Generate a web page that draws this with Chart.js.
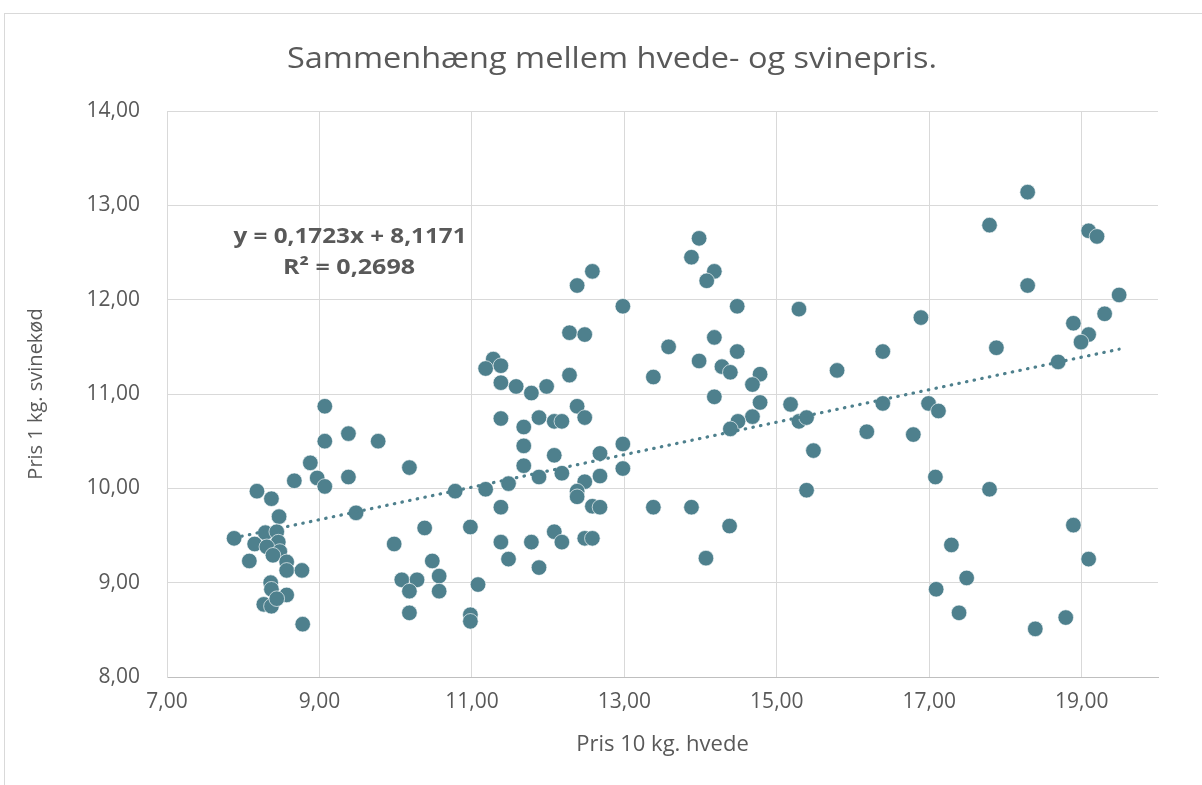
<!DOCTYPE html>
<html>
<head>
<meta charset="utf-8">
<script src="https://cdn.jsdelivr.net/npm/chart.js@4"></script>
<style>
  html, body { margin: 0; padding: 0; background: #ffffff; }
  #wrap { width: 1202px; height: 785px; position: relative; }
</style>
</head>
<body>
<div id="wrap"><canvas id="c" width="1202" height="785"></canvas></div>
<script>
// ---- data ----
const chartTitle = "Sammenhæng mellem hvede- og svinepris.";
const xAxisTitle = "Pris 10 kg. hvede";
const yAxisTitle = "Pris 1 kg. svinekød";
const xTicks = [7, 9, 11, 13, 15, 17, 19];
const yTicks = [8, 9, 10, 11, 12, 13, 14];
const equationLines = ["y = 0,1723x + 8,1171", "R² = 0,2698"];

// Pris 10 kg. hvede (x)
const wheatPrice = [
  7.88, 8.08, 8.18, 8.15, 8.29, 8.27, 8.37, 8.36, 8.37, 8.47,
  8.44, 8.46, 8.31, 8.48, 8.39, 8.57, 8.57, 8.77, 8.37, 8.57,
  8.44, 8.78, 8.67, 8.88, 8.97, 9.07, 9.07, 9.07, 9.38, 9.38,
  9.77, 10.18, 9.48, 10.78, 11.18, 10.38, 10.98, 9.98, 10.48, 10.08,
  10.28, 10.18, 10.57, 10.57, 11.08, 10.18, 10.98, 10.98, 12.28, 12.48,
  11.28, 11.18, 11.38, 11.38, 11.58, 11.78, 11.98, 12.28, 13.58, 13.98,
  13.38, 11.38, 11.68, 11.88, 12.08, 12.18, 12.38, 12.48, 11.68, 12.08,
  11.68, 11.88, 12.18, 12.68, 12.98, 12.98, 12.68, 12.48, 12.38, 12.38,
  12.58, 12.68, 13.38, 13.88, 11.48, 11.38, 11.38, 11.78, 12.08, 12.18,
  12.48, 12.58, 11.48, 11.88, 14.07, 13.98, 13.88, 14.18, 14.08, 14.48,
  14.18, 14.48, 14.28, 14.39, 14.78, 14.68, 14.18, 14.78, 14.68, 14.49,
  14.39, 12.38, 12.58, 12.98, 15.29, 16.89, 16.39, 15.79, 15.18, 16.39,
  16.99, 17.12, 15.29, 15.39, 15.48, 16.18, 16.79, 17.08, 15.39, 14.38,
  17.88, 17.79, 17.29, 17.49, 17.09, 17.39, 18.29, 17.79, 19.09, 19.20,
  18.29, 19.49, 19.30, 18.89, 19.09, 18.99, 18.69, 18.89, 19.09, 18.39,
  18.79
];
// Pris 1 kg. svinekød (y)
const porkPrice = [
  9.47, 9.23, 9.97, 9.41, 9.53, 8.77, 9.89, 9.00, 8.75, 9.70,
  9.54, 9.43, 9.38, 9.33, 9.29, 9.22, 9.13, 9.13, 8.93, 8.87,
  8.83, 8.56, 10.08, 10.27, 10.11, 10.02, 10.50, 10.87, 10.58, 10.12,
  10.50, 10.22, 9.74, 9.97, 9.99, 9.58, 9.59, 9.41, 9.23, 9.03,
  9.03, 8.91, 9.07, 8.91, 8.98, 8.68, 8.66, 8.59, 11.65, 11.63,
  11.37, 11.27, 11.30, 11.12, 11.08, 11.01, 11.08, 11.20, 11.50, 11.35,
  11.18, 10.74, 10.65, 10.75, 10.71, 10.71, 10.87, 10.75, 10.45, 10.35,
  10.24, 10.12, 10.16, 10.37, 10.47, 10.21, 10.13, 10.07, 9.97, 9.91,
  9.81, 9.80, 9.80, 9.80, 10.05, 9.80, 9.43, 9.43, 9.54, 9.43,
  9.47, 9.47, 9.25, 9.16, 9.26, 12.65, 12.45, 12.30, 12.20, 11.93,
  11.60, 11.45, 11.29, 11.23, 11.21, 11.10, 10.97, 10.91, 10.76, 10.71,
  10.63, 12.15, 12.30, 11.93, 11.90, 11.81, 11.45, 11.25, 10.89, 10.90,
  10.90, 10.82, 10.71, 10.75, 10.40, 10.60, 10.57, 10.12, 9.98, 9.60,
  11.49, 9.99, 9.40, 9.05, 8.93, 8.68, 13.14, 12.79, 12.73, 12.67,
  12.15, 12.05, 11.85, 11.75, 11.63, 11.55, 11.34, 9.61, 9.25, 8.51,
  8.63
];
// linear trendline end points
const trendX = [7.88, 19.49];
const trendY = [9.475, 11.475];

// ---- styles ----
const FONT = "'Open Sans', 'DejaVu Sans', sans-serif";
const TEXT = '#595959';
const TEAL = '#4E808D';
const GRID = '#d9d9d9';

const points = wheatPrice.map((x, i) => ({ x: x, y: porkPrice[i] }));
const trend = trendX.map((x, i) => ({ x: x, y: trendY[i] }));

const fmt = v => v.toFixed(2).replace('.', ',');

// draw text horizontally stretched to a target width (reference text is wide)
function wideText(ctx, text, cx, cy, font, targetWidth) {
  ctx.save();
  ctx.font = font;
  ctx.textAlign = 'center';
  ctx.textBaseline = 'middle';
  const w = ctx.measureText(text).width;
  const sx = targetWidth / w;
  ctx.translate(cx, cy);
  ctx.scale(sx, 1);
  ctx.fillText(text, 0, 0);
  ctx.restore();
}

const framePlugin = {
  id: 'frame',
  beforeDraw(chart) {
    const ctx = chart.ctx;
    ctx.save();
    ctx.fillStyle = '#ffffff';
    ctx.fillRect(0, 0, chart.width, chart.height);
    ctx.strokeStyle = GRID;
    ctx.lineWidth = 1;
    ctx.strokeRect(4.5, 13.5, 1400, 1000);
    ctx.fillStyle = TEXT;
    wideText(ctx, chartTitle, 612, 59, "30px " + FONT, 650);
    ctx.restore();
  }
};

const equationPlugin = {
  id: 'equation',
  afterDatasetsDraw(chart) {
    const ctx = chart.ctx;
    ctx.save();
    ctx.fillStyle = TEXT;
    wideText(ctx, equationLines[0], 350, 237, "bold 21px " + FONT, 233);
    wideText(ctx, equationLines[1], 349, 268, "bold 21px " + FONT, 132);
    ctx.restore();
  }
};

new Chart(document.getElementById('c'), {
  type: 'scatter',
  data: {
    datasets: [
      {
        type: 'line',
        data: trend,
        borderColor: TEAL,
        borderWidth: 3.2,
        borderDash: [0.5, 7.3],
        borderCapStyle: 'round',
        pointRadius: 0,
        fill: false,
        order: 0
      },
      {
        data: points,
        backgroundColor: TEAL,
        borderColor: 'rgba(255,255,255,0.85)',
        borderWidth: 0.75,
        pointRadius: 7.8,
        pointHoverRadius: 7.8,
        order: 1
      }
    ]
  },
  options: {
    responsive: false,
    animation: false,
    devicePixelRatio: 1,
    layout: { padding: { left: 0, right: 44, top: 111, bottom: 0 } },
    plugins: {
      legend: { display: false },
      tooltip: { enabled: false },
      title: { display: false }
    },
    scales: {
      x: {
        type: 'linear',
        min: 7,
        max: 20,
        afterBuildTicks(scale) { scale.ticks = xTicks.map(v => ({ value: v })); },
        afterFit(scale) { scale.height = 108; },
        grid: { color: GRID, lineWidth: 1, drawTicks: false },
        border: { display: true, color: '#bfbfbf', width: 1 },
        ticks: {
          color: TEXT,
          font: { family: FONT, size: 21 },
          padding: 12,
          callback: v => fmt(v),
          maxRotation: 0
        },
        title: {
          display: true,
          text: xAxisTitle,
          color: TEXT,
          font: { family: FONT, size: 22, lineHeight: 1.2 },
          padding: { top: 0, bottom: 27 }
        }
      },
      y: {
        type: 'linear',
        min: 8,
        max: 14,
        afterBuildTicks(scale) { scale.ticks = yTicks.map(v => ({ value: v })); },
        afterFit(scale) { scale.width = 167; },
        grid: { color: GRID, lineWidth: 1, drawTicks: false },
        border: { display: true, color: GRID, width: 1 },
        ticks: {
          color: TEXT,
          font: { family: FONT, size: 21 },
          padding: 27,
          callback: v => fmt(v)
        },
        title: {
          display: true,
          text: yAxisTitle,
          color: TEXT,
          font: { family: FONT, size: 20, lineHeight: 1.2 },
          padding: { top: 24, bottom: 0 }
        }
      }
    }
  },
  plugins: [framePlugin, equationPlugin]
});
</script>
</body>
</html>
